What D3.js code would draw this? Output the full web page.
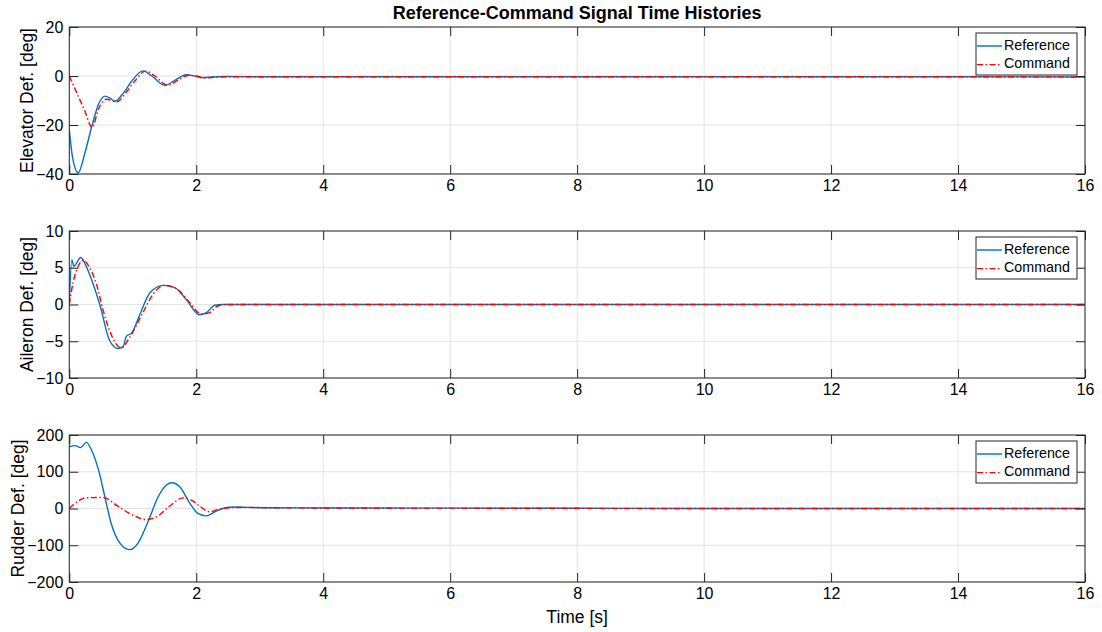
<!DOCTYPE html>
<html>
<head>
<meta charset="utf-8">
<script src="https://cdn.jsdelivr.net/npm/d3@7"></script>
<style>
  html, body { margin: 0; padding: 0; background: #fff; }
  svg { display: block; font-family: "Liberation Sans", Arial, Helvetica, sans-serif; }
</style>
</head>
<body>
<svg id="chart" width="1102" height="632"></svg>
<script>
// ---- Data: elevator, aileron and rudder deflections [deg] vs time [s] ----
const xTicks = [0, 2, 4, 6, 8, 10, 12, 14, 16];

const elevRefT = [0, 0.05, 0.14, 0.25, 0.36, 0.46, 0.56, 0.64, 0.72, 0.85, 1.0, 1.16, 1.3, 1.5, 1.68, 1.84, 1.97, 2.1, 2.25, 2.45, 3, 4, 6, 8, 10, 12, 14, 16];
const elevRefV = [-21.9, -33, -39.5, -31, -20, -11.5, -8.2, -9, -10.3, -7, -1.5, 2.1, 0, -3.8, -1.5, 0.5, 0, -0.7, -0.4, -0.2, -0.3, -0.3, -0.3, -0.3, -0.3, -0.3, -0.3, -0.4];
const elevCmdT = [0, 0.12, 0.24, 0.36, 0.46, 0.58, 0.75, 0.9, 1.05, 1.2, 1.35, 1.55, 1.72, 1.88, 2.0, 2.15, 2.3, 2.5, 3, 4, 6, 8, 10, 12, 14, 16];
const elevCmdV = [0, -7, -14, -21, -13.5, -9.5, -10.5, -6.5, -1.5, 2, 0, -3.8, -1.6, 0.3, 0, -0.8, -0.5, -0.3, -0.3, -0.3, -0.3, -0.3, -0.3, -0.3, -0.3, -0.4];
const elevTicks = [-40, -20, 0, 20];

const ailRefT = [0, 0.04, 0.07, 0.18, 0.25, 0.35, 0.48, 0.64, 0.77, 0.85, 0.9, 0.98, 1.11, 1.27, 1.48, 1.66, 1.84, 2.05, 2.16, 2.29, 2.42, 3, 4, 6, 8, 10, 12, 14, 16];
const ailRefV = [0, 6.1, 5.2, 6.4, 5.5, 3.4, 0, -5, -6.0, -5.7, -4.3, -3.9, -1.4, 1.6, 2.6, 2.3, 0.7, -1.4, -1.1, -0.1, 0, 0, 0, 0, 0, 0, 0, 0, 0];
const ailCmdT = [0, 0.06, 0.14, 0.22, 0.32, 0.43, 0.53, 0.66, 0.82, 0.95, 1.16, 1.32, 1.5, 1.63, 1.74, 1.9, 2.08, 2.21, 2.34, 2.47, 3, 4, 6, 8, 10, 12, 14, 16];
const ailCmdV = [0, 3, 5.2, 6.0, 5, 2.7, -0.7, -4.1, -5.9, -4.5, -1.1, 1.4, 2.6, 2.4, 1.8, 0.2, -1.3, -1.1, -0.2, 0, 0, 0, 0, 0, 0, 0, 0, 0];
const ailTicks = [-10, -5, 0, 5, 10];

const rudRefT = [0, 0.09, 0.18, 0.27, 0.35, 0.46, 0.56, 0.66, 0.80, 0.95, 1.08, 1.24, 1.40, 1.53, 1.62, 1.74, 1.90, 2.03, 2.16, 2.29, 2.42, 2.6, 2.8, 3.2, 4, 6, 8, 10, 12, 14, 16];
const rudRefV = [168, 171, 166, 180, 159, 105, 32, -41, -95, -112, -95, -36, 32, 64, 70, 59, 14, -14, -20, -9, 0, 4, 3, 2, 1.5, 1, 0.5, 0, 0, 0, 0];
const rudCmdT = [0, 0.12, 0.26, 0.43, 0.56, 0.74, 0.98, 1.21, 1.37, 1.58, 1.79, 1.90, 2.08, 2.21, 2.34, 2.52, 2.8, 3.2, 4, 6, 8, 10, 12, 14, 16];
const rudCmdV = [0, 18, 29, 30, 29, 9, -16, -30, -23, 6, 29, 25, 3, -9, -3, 2, 3, 2, 1.5, 1, 0.5, 0, 0, 0, 0];
const rudTicks = [-200, -100, 0, 100, 200];

const seriesNames = ["Reference", "Command"];

// ---- Layout ----
const svg = d3.select("#chart");
const left = 69.3, right = 1085;
const panels = [
  { top: 27,  bottom: 174, domain: [-40, 20],   ticks: elevTicks, label: "Elevator Def. [deg]", labelX: 28,
    ref: [elevRefT, elevRefV], cmd: [elevCmdT, elevCmdV] },
  { top: 231, bottom: 378, domain: [-10, 10],   ticks: ailTicks,  label: "Aileron Def. [deg]",  labelX: 28,
    ref: [ailRefT, ailRefV],   cmd: [ailCmdT, ailCmdV] },
  { top: 435, bottom: 582, domain: [-200, 200], ticks: rudTicks,  label: "Rudder Def. [deg]",   labelX: 19,
    ref: [rudRefT, rudRefV],   cmd: [rudCmdT, rudCmdV] }
];

const x = d3.scaleLinear().domain([0, 16]).range([left, right]);
const axisColor = "#262626";
const gridColor = "#e3e3e3";
const refColor = "#0072BD";
const cmdColor = "#FF0000";
const tickLen = 9;
const dashDot = "6,2.5,1.5,2.5";

svg.append("rect").attr("width", 1102).attr("height", 632).attr("fill", "#fff");

panels.forEach((p, i) => {
  const y = d3.scaleLinear().domain(p.domain).range([p.bottom, p.top]);
  const g = svg.append("g");

  // grid
  g.append("g").selectAll("line").data(xTicks).join("line")
    .attr("x1", d => x(d)).attr("x2", d => x(d))
    .attr("y1", p.top).attr("y2", p.bottom)
    .attr("stroke", gridColor).attr("stroke-width", 1);
  g.append("g").selectAll("line").data(p.ticks).join("line")
    .attr("x1", left).attr("x2", right)
    .attr("y1", d => y(d)).attr("y2", d => y(d))
    .attr("stroke", gridColor).attr("stroke-width", 1);

  // clip
  const clipId = "clip" + i;
  svg.append("clipPath").attr("id", clipId).append("rect")
    .attr("x", left).attr("y", p.top - 1).attr("width", right - left).attr("height", p.bottom - p.top + 2);

  const line = d3.line().x(d => x(d[0])).y(d => y(d[1])).curve(d3.curveMonotoneX);
  const refPts = p.ref[0].map((t, k) => [t, p.ref[1][k]]);
  const cmdPts = p.cmd[0].map((t, k) => [t, p.cmd[1][k]]);

  const lines = g.append("g").attr("clip-path", `url(#${clipId})`);
  lines.append("path").datum(refPts).attr("d", line)
    .attr("fill", "none").attr("stroke", refColor).attr("stroke-width", 1.4);
  lines.append("path").datum(cmdPts).attr("d", line)
    .attr("fill", "none").attr("stroke", cmdColor).attr("stroke-width", 1.4)
    .attr("stroke-dasharray", dashDot);

  // axes with inward ticks on all four sides
  const styleAxis = sel => {
    sel.select(".domain").remove();
    sel.selectAll(".tick line").attr("stroke", axisColor);
    sel.selectAll(".tick text").attr("fill", "#000").style("font-size", "16px")
      .style("font-family", '"Liberation Sans", Arial, sans-serif');
  };
  g.append("g").attr("transform", `translate(0,${p.bottom})`)
    .call(d3.axisBottom(x).tickValues(xTicks).tickSize(-tickLen).tickPadding(6).tickFormat(d3.format("d")))
    .call(styleAxis);
  g.append("g").attr("transform", `translate(0,${p.top})`)
    .call(d3.axisTop(x).tickValues(xTicks).tickSize(-tickLen).tickFormat(""))
    .call(styleAxis);
  g.append("g").attr("transform", `translate(${left},0)`)
    .call(d3.axisLeft(y).tickValues(p.ticks).tickSize(-tickLen).tickPadding(6).tickFormat(d3.format("d")))
    .call(styleAxis);
  g.append("g").attr("transform", `translate(${right},0)`)
    .call(d3.axisRight(y).tickValues(p.ticks).tickSize(-tickLen).tickFormat(""))
    .call(styleAxis);

  // box
  g.append("rect").attr("x", left).attr("y", p.top)
    .attr("width", right - left).attr("height", p.bottom - p.top)
    .attr("fill", "none").attr("stroke", axisColor).attr("stroke-width", 1);

  // y label
  g.append("text")
    .attr("transform", `translate(${p.labelX},${(p.top + p.bottom) / 2}) rotate(-90)`)
    .attr("text-anchor", "middle").attr("dominant-baseline", "middle")
    .style("font-size", "17.5px").text(p.label);

  // legend
  const lx = 976, ly = p.top + 6, lw = 101, lh = 42;
  const lg = g.append("g");
  lg.append("rect").attr("x", lx).attr("y", ly).attr("width", lw).attr("height", lh)
    .attr("fill", "#fff").attr("stroke", axisColor).attr("stroke-width", 1);
  seriesNames.forEach((name, k) => {
    const yy = ly + 13 + k * 18.6;
    lg.append("line").attr("x1", lx + 1).attr("x2", lx + 26).attr("y1", yy).attr("y2", yy)
      .attr("stroke", k === 0 ? refColor : cmdColor).attr("stroke-width", 1.4)
      .attr("stroke-dasharray", k === 0 ? null : dashDot);
    lg.append("text").attr("x", lx + 28).attr("y", yy).attr("dominant-baseline", "middle")
      .style("font-size", "14.3px").text(name);
  });
});

// title and x label
svg.append("text").attr("x", (left + right) / 2).attr("y", 14)
  .attr("text-anchor", "middle").attr("dominant-baseline", "middle")
  .style("font-size", "18px").style("font-weight", "bold")
  .text("Reference-Command Signal Time Histories");
svg.append("text").attr("x", (left + right) / 2).attr("y", 618)
  .attr("text-anchor", "middle").attr("dominant-baseline", "middle")
  .style("font-size", "17.5px").text("Time [s]");
</script>
</body>
</html>
